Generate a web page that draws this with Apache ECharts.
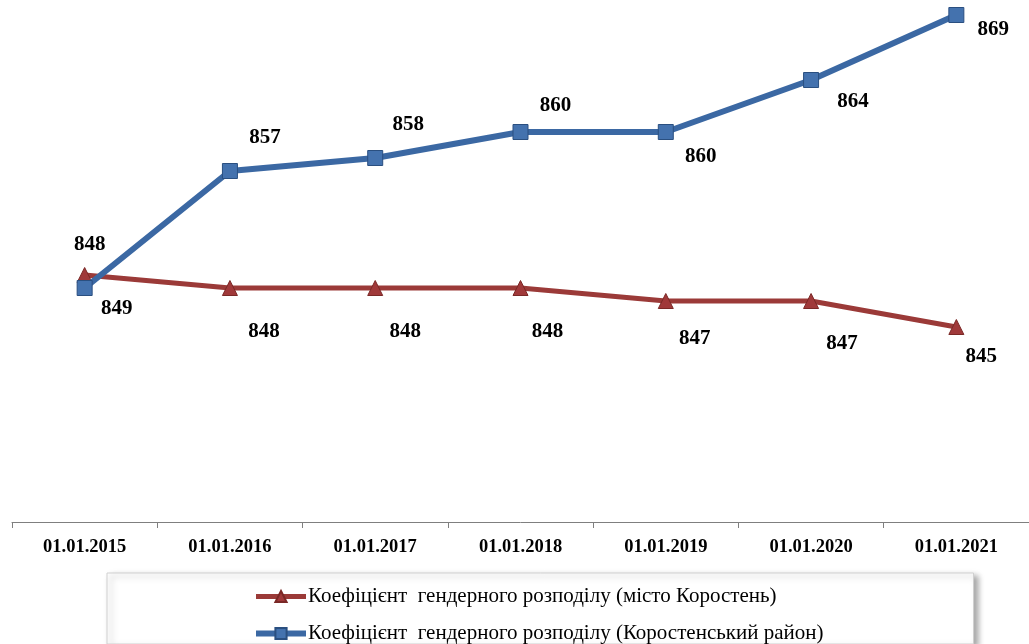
<!DOCTYPE html>
<html><head><meta charset="utf-8">
<script src="https://cdn.jsdelivr.net/npm/echarts@6/dist/echarts.min.js"></script>
<style>html,body{margin:0;padding:0;background:#fff}#c{width:1029px;height:644px}</style>
</head><body><div id="c"></div>
<script>
const categories = ['01.01.2015','01.01.2016','01.01.2017','01.01.2018','01.01.2019','01.01.2020','01.01.2021'];
const cityName = 'Коефіцієнт  гендерного розподілу (місто Коростень)';
const districtName = 'Коефіцієнт  гендерного розподілу (Коростенський район)';
const cityValues = [849, 848, 848, 848, 847, 847, 845];
const districtValues = [848, 857, 858, 860, 860, 864, 869];
const cityLabelOffsets = [[32,34],[34,44],[30,44],[27,44],[29,38],[31,43],[25,30]];
const districtLabelOffsets = [[5,-43],[35,-33],[33,-33],[35,-26],[35,25],[42,22],[37,15]];

const labelFont = {fontFamily:'Liberation Serif', fontWeight:'bold', fontSize:21, color:'#000'};
function build(vals, offs){
  return vals.map((v,i)=>({value:v, label:{offset:offs[i]}}));
}
const chart = echarts.init(document.getElementById('c'));
chart.setOption({
  animation:false,
  grid:{left:12, right:-4, top:2, bottom:122},
  xAxis:{type:'category', data:categories, boundaryGap:true,
    axisLine:{lineStyle:{color:'#7f7f7f', width:1}},
    axisTick:{show:true, length:6, lineStyle:{color:'#7f7f7f'}},
    axisLabel:{fontFamily:'Liberation Serif', fontWeight:'bold', fontSize:18.5, color:'#000', margin:16}},
  yAxis:{type:'value', min:830, max:870, show:false, splitLine:{show:false}},
  legend:{orient:'vertical', left:107, top:573, itemWidth:50, itemHeight:14, itemGap:16,
    padding:[13,150,0,146], borderColor:'#d0d0d0', borderWidth:1, backgroundColor:'#fff',
    shadowBlur:6, shadowOffsetX:4, shadowOffsetY:3, shadowColor:'rgba(0,0,0,0.35)',
    textStyle:{fontFamily:'Liberation Serif', fontSize:21, color:'#000', padding:[0,0,0,-3]},
    data:[{name:cityName, lineStyle:{width:5}}, {name:districtName, lineStyle:{width:6}}]},
  series:[
    {name:cityName, type:'line', data:build(cityValues, cityLabelOffsets),
      symbol:'triangle', symbolSize:15,
      lineStyle:{color:'#9b3a38', width:5},
      itemStyle:{color:'#a0393a', borderColor:'#7a2826', borderWidth:1},
      label:{show:true, position:'inside', ...labelFont}, z:2},
    {name:districtName, type:'line', data:build(districtValues, districtLabelOffsets),
      symbol:'rect', symbolSize:15,
      lineStyle:{color:'#3b68a3', width:6},
      itemStyle:{color:'#4472ae', borderColor:'#2a4f80', borderWidth:1},
      label:{show:true, position:'inside', ...labelFont}, z:3}
  ]
});
</script></body></html>
